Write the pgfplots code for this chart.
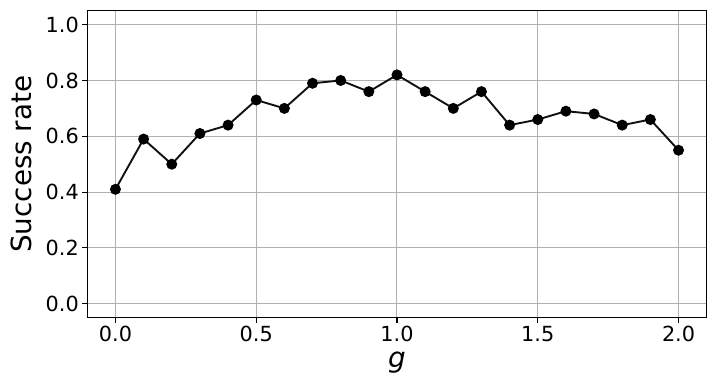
\documentclass[border=0pt]{standalone}
\usepackage{fontspec}
\setmainfont{DejaVu Sans}
\usepackage{pgfplots}
\pgfplotsset{compat=1.18}
\definecolor{GridGray}{HTML}{B0B0B0}
\definecolor{LineBlack}{HTML}{111111}

\begin{document}
\begin{tikzpicture}
  \path[use as bounding box] (-87.3pt,-73.3pt) rectangle (628.7pt,317.7pt);
  \begin{axis}[
    scale only axis,
    width=619.4pt,height=307pt,
    xmin=-0.1,xmax=2.1,ymin=-0.05,ymax=1.05,
    xtick={0,0.5,1,1.5,2},
    ytick={0,0.2,0.4,0.6,0.8,1},
    xticklabel style={/pgf/number format/.cd,fixed,fixed zerofill,precision=1},
    yticklabel style={/pgf/number format/.cd,fixed,fixed zerofill,precision=1},
    /pgf/number format/assume math mode=true,
    tick label style={font=\fontsize{20.8}{24}\selectfont},
    xlabel={\textit{g}},
    ylabel={Success rate},
    every axis y label/.style={at={(axis description cs:-0.107,0.5)},rotate=90,anchor=center,font=\fontsize{27.8}{32}\selectfont},
    every axis x label/.style={at={(axis description cs:0.5,-0.163)},anchor=base,font=\fontsize{27.8}{32}\selectfont},
    grid=major,
    grid style={GridGray,line width=1pt},
    axis line style={black,line width=1.1pt},
    tick style={black,line width=1.1pt},
    major tick length=5pt,
    tick align=outside,
    xtick pos=bottom,ytick pos=left,
  ]
    \addplot[LineBlack,line width=1.9pt,mark=*,mark size=4.5pt,mark options={fill=black,draw=black}] coordinates {
      (0.0,0.41)(0.1,0.59)(0.2,0.50)(0.3,0.61)(0.4,0.64)(0.5,0.73)(0.6,0.70)
      (0.7,0.79)(0.8,0.80)(0.9,0.76)(1.0,0.82)(1.1,0.76)(1.2,0.70)(1.3,0.76)
      (1.4,0.64)(1.5,0.66)(1.6,0.69)(1.7,0.68)(1.8,0.64)(1.9,0.66)(2.0,0.55)
    };
  \end{axis}
\end{tikzpicture}
\end{document}
